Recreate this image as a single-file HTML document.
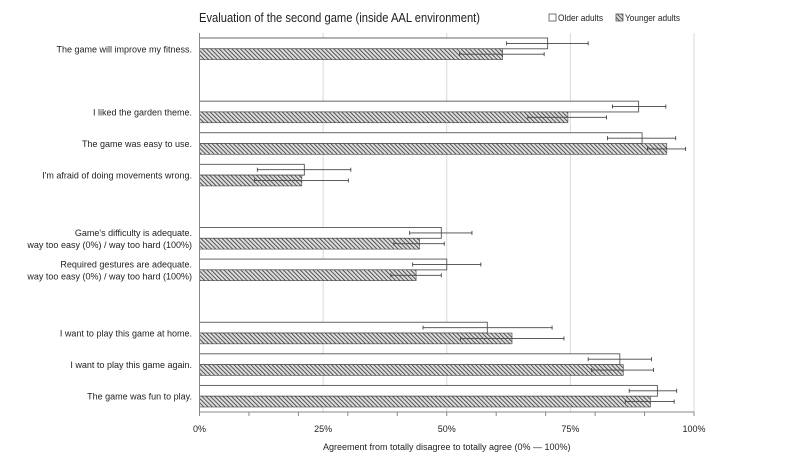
<!DOCTYPE html>
<html><head><meta charset="utf-8">
<style>
body{margin:0;background:#fff;font-family:"Liberation Sans",sans-serif;}
svg text{font-family:"Liberation Sans",sans-serif;fill:#222;}
</style></head>
<body>
<svg id="chart" width="800" height="457" viewBox="0 0 800 457" xmlns="http://www.w3.org/2000/svg">
<defs>
<pattern id="hatch" patternUnits="userSpaceOnUse" width="3" height="3" patternTransform="rotate(-45)">
<rect width="3" height="3" fill="#ddd"/>
<line x1="0" y1="0" x2="0" y2="3" stroke="#333" stroke-width="1.6"/>
</pattern>
</defs>
<text x="199" y="22" font-size="13" textLength="281" lengthAdjust="spacingAndGlyphs">Evaluation of the second game (inside AAL environment)</text>
<g>
<rect x="549" y="14" width="7" height="7" fill="#fff" stroke="#555" stroke-width="0.8"/>
<text x="558" y="21" font-size="9.5" textLength="45" lengthAdjust="spacingAndGlyphs">Older adults</text>
<rect x="616" y="14" width="7" height="7" fill="url(#hatch)" stroke="#555" stroke-width="0.8"/>
<text x="625" y="21" font-size="9.5" textLength="55" lengthAdjust="spacingAndGlyphs">Younger adults</text>
</g>
<g id="grid"></g>
<g id="bars"></g>
<g id="axis"></g>
</svg>
<script>
const categories = ["The game will improve my fitness.", "", "I liked the garden theme.", "The game was easy to use.", "I'm afraid of doing movements wrong.", "", "Game's difficulty is adequate.|way too easy (0%) / way too hard (100%)", "Required gestures are adequate.|way too easy (0%) / way too hard (100%)", "", "I want to play this game at home.", "I want to play this game again.", "The game was fun to play."];
const olderValues = [70.4, null, 88.8, 89.5, 21.2, null, 48.9, 50.0, null, 58.2, 85.0, 92.6];
const olderLow = [62.1, null, 83.5, 82.5, 11.7, null, 42.5, 43.1, null, 45.2, 78.6, 86.9];
const olderHigh = [78.6, null, 94.3, 96.3, 30.6, null, 55.1, 56.9, null, 71.3, 91.4, 96.5];
const youngerValues = [61.3, null, 74.5, 94.5, 20.7, null, 44.5, 43.8, null, 63.2, 85.7, 91.2];
const youngerLow = [52.6, null, 66.4, 90.6, 11.1, null, 39.3, 38.7, null, 52.8, 79.3, 86.1];
const youngerHigh = [69.7, null, 82.3, 98.3, 30.1, null, 49.5, 48.9, null, 73.7, 91.8, 96.0];
const tickLabels = ["0%", "25%", "50%", "75%", "100%"];
const tickValues = [0, 25, 50, 75, 100];

const NS = "http://www.w3.org/2000/svg";
const X0 = 199.5, X1 = 694, Y0 = 33, Y1 = 412;
const slot = (Y1 - Y0) / categories.length;
const bh = 10.8;
function xs(v){ return X0 + (X1 - X0) * v / 100; }
function yc(i){ return Y0 + slot * (i + 0.5); }
function mk(tag, attrs, parent){ const e = document.createElementNS(NS, tag); for (const k in attrs) e.setAttribute(k, attrs[k]); parent.appendChild(e); return e; }

const grid = document.getElementById('grid');
tickValues.forEach((t, i) => {
  if (t > 0) {
    const g = mk('line', {x1: xs(t), x2: xs(t), y1: Y0, y2: Y1, stroke: '#d9d9d9', 'stroke-width': 1}, grid);
    
    
  }
});

const bars = document.getElementById('bars');
function errBar(lo, hi, y, name){
  const g = mk('g', {stroke: '#444', 'stroke-width': 0.9}, bars);
  
  
  mk('line', {x1: xs(lo), x2: xs(hi), y1: y, y2: y}, g);
  mk('line', {x1: xs(lo), x2: xs(lo), y1: y - 2, y2: y + 2}, g);
  mk('line', {x1: xs(hi), x2: xs(hi), y1: y - 2, y2: y + 2}, g);
}
categories.forEach((c, i) => {
  const cy = yc(i);
  if (olderValues[i] != null) {
    const r = mk('rect', {x: X0, y: cy - bh, width: xs(olderValues[i]) - X0, height: bh, fill: '#fff', stroke: '#555', 'stroke-width': 0.9}, bars);
    
    
    const r2 = mk('rect', {x: X0, y: cy, width: xs(youngerValues[i]) - X0, height: bh, fill: 'url(#hatch)', stroke: '#444', 'stroke-width': 0.6}, bars);
    
    
    errBar(olderLow[i], olderHigh[i], cy - bh / 2, 'error-bar-older');
    errBar(youngerLow[i], youngerHigh[i], cy + bh / 2, 'error-bar-younger');
  }
  if (c) {
    const lines = c.split('|');
    const t = mk('text', {x: 192, 'text-anchor': 'end', 'font-size': 9}, bars);
    
    
    lines.forEach((ln, k) => {
      const ts = mk('tspan', {x: 192, y: cy + 3.5 + (k - (lines.length - 1) / 2) * 12}, t);
      ts.textContent = ln;
    });
  }
});

const axis = document.getElementById('axis');
const al = mk('line', {x1: X0, x2: X0, y1: Y0, y2: Y1, stroke: '#888', 'stroke-width': 1}, axis);


const bl = mk('line', {x1: X0, x2: X1, y1: Y1, y2: Y1, stroke: '#888', 'stroke-width': 1}, axis);


for (let v = 0; v <= 100; v += 10) {
  const tk = mk('line', {x1: xs(v), x2: xs(v), y1: Y1, y2: Y1 + 4, stroke: '#888'}, axis);
  
  
}
tickValues.forEach((t, i) => {
  const tx = mk('text', {x: xs(t), y: 432, 'text-anchor': 'middle', 'font-size': 9}, axis);
  
  
  tx.textContent = tickLabels[i];
});
const xt = mk('text', {x: (X0 + X1) / 2, y: 450, 'text-anchor': 'middle', 'font-size': 9}, axis);


xt.textContent = 'Agreement from totally disagree to totally agree (0% \u2014 100%)';
</script>
</body></html>
